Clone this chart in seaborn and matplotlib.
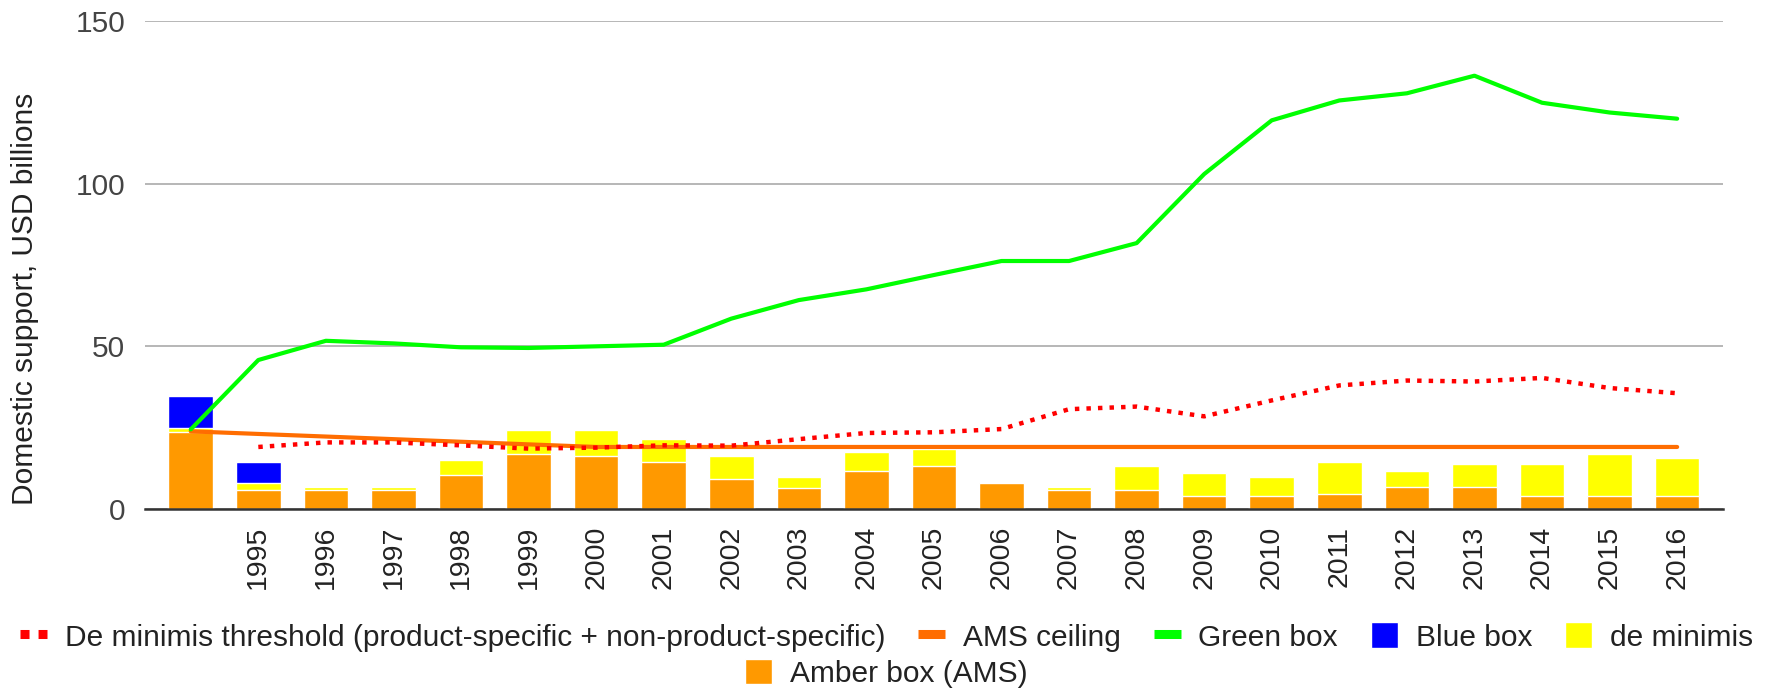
import numpy as np
import pandas as pd
import matplotlib
matplotlib.use("Agg")
import matplotlib.pyplot as plt
from matplotlib.patches import Patch
from matplotlib.lines import Line2D
import seaborn as sns

# values (USD billions)
labels = [""] + [str(y) for y in range(1995, 2017)]
amber = [23.6, 5.9, 5.9, 5.9, 10.6, 17.0, 16.4, 14.4, 9.2, 6.6, 11.8, 13.2,
         8.0, 5.9, 5.9, 4.1, 4.1, 4.7, 6.7, 6.7, 4.1, 4.1, 4.1]
de_minimis = [1.2, 2.0, 0.9, 0.9, 4.5, 7.2, 7.8, 7.2, 7.2, 3.3, 5.9, 5.4,
              0.0, 0.8, 7.3, 7.1, 5.8, 9.7, 5.1, 7.1, 9.7, 12.9, 11.6]
blue = [9.8, 6.6] + [0.0] * 21
green = [24.5, 45.8, 51.7, 50.9, 49.7, 49.5, 50.0, 50.5, 58.5, 64.2, 67.5, 71.9,
         76.2, 76.2, 81.7, 102.9, 119.4, 125.5, 127.7, 133.1, 124.8, 121.8, 119.9]
ams_ceiling = [23.9, 23.1, 22.3, 21.5, 20.7, 19.9, 19.1] + [19.1] * 16
threshold = [np.nan, 19.1, 20.5, 20.5, 19.6, 18.6, 18.9, 19.6, 19.5, 21.5, 23.4,
             23.6, 24.6, 30.7, 31.5, 28.5, 33.4, 38.0, 39.5, 39.2, 40.3, 37.2, 35.6]

c_amber = "#ff9900"
c_yellow = "#ffff00"
c_blue = "#0000ff"
c_green = "#00ff00"
c_ams = "#ff6d01"
c_red = "#ff0000"

df = pd.DataFrame({
    "label": labels,
    "pos": np.arange(len(labels)),
    "amber": amber,
    "dm": de_minimis,
    "blue": blue,
    "green": green,
    "ams": ams_ceiling,
    "thr": threshold,
})
df["amber_dm"] = df["amber"] + df["dm"]
df["total"] = df["amber_dm"] + df["blue"]

sns.set_style("white")
plt.rcParams["font.family"] = ["Liberation Sans", "DejaVu Sans"]

fig = plt.figure(figsize=(17.66, 6.89), dpi=100)
ax = fig.add_axes([0.082, 0.261, 0.8937, 0.709])

# stacked bars: draw cumulative totals from top down
bw = 0.66
sns.barplot(data=df, x="label", y="total", order=labels, color=c_blue,
            saturation=1, width=bw, ax=ax, zorder=2)
sns.barplot(data=df, x="label", y="amber_dm", order=labels, color=c_yellow,
            saturation=1, width=bw, ax=ax, zorder=2)
sns.barplot(data=df, x="label", y="amber", order=labels, color=c_amber,
            saturation=1, width=bw, ax=ax, zorder=2)

# lines
sns.lineplot(data=df, x="pos", y="green", color=c_green, lw=3, ax=ax, zorder=4)
sns.lineplot(data=df, x="pos", y="ams", color=c_ams, lw=3, ax=ax, zorder=3)
ax.plot(df["pos"], df["thr"], color=c_red, lw=3.2, linestyle=(0, (1, 1.6)),
        dash_capstyle="butt", zorder=3)

ax.set_ylim(0, 150)
ax.set_xlim(-0.68, len(labels) - 0.32)
ax.set_yticks([0, 50, 100, 150])
ax.yaxis.grid(True, color="#b7b7b7", lw=1.4, zorder=0)
ax.set_axisbelow(True)
for s in ["top", "right", "left"]:
    ax.spines[s].set_visible(False)
ax.spines["bottom"].set_color("#333333")
ax.spines["bottom"].set_linewidth(1.8)
ax.spines["bottom"].set_zorder(5)

ax.set_xticks(range(len(labels)))
ax.set_xticklabels(labels, rotation=90, fontsize=20.5, color="#222222")
ax.tick_params(axis="x", length=0, pad=12)
ax.tick_params(axis="y", length=0, pad=14, labelsize=21.5, labelcolor="#444444")

ax.set_xlabel("")
ax.set_ylabel("Domestic support, USD billions", fontsize=21.5, color="#222222")
ax.yaxis.set_label_coords(-0.067, 0.43)

h_thr = Line2D([0], [0], color=c_red, lw=6.5, linestyle=(0, (1, 1)),
               dash_capstyle="butt")
h_ams = Line2D([0], [0], color=c_ams, lw=6.5, solid_capstyle="butt")
h_green = Line2D([0], [0], color=c_green, lw=6.5, solid_capstyle="butt")
h_blue = Patch(facecolor=c_blue)
h_yellow = Patch(facecolor=c_yellow)
h_amber = Patch(facecolor=c_amber)

leg_kw = dict(frameon=False, fontsize=21.5, handletextpad=0.6,
              labelcolor="#222222", loc="center", handlelength=0.9,
              handleheight=0.95)
fig.legend([h_thr, h_ams, h_green, h_blue, h_yellow],
           ["De minimis threshold (product-specific + non-product-specific)",
            "AMS ceiling", "Green box", "Blue box", "de minimis"],
           ncol=5, bbox_to_anchor=(0.502, 0.0755), columnspacing=1.1,
           **leg_kw)
fig.legend([h_amber], ["Amber box (AMS)"], bbox_to_anchor=(0.502, 0.023),
           **leg_kw)

fig.savefig("out.png", dpi=100)
